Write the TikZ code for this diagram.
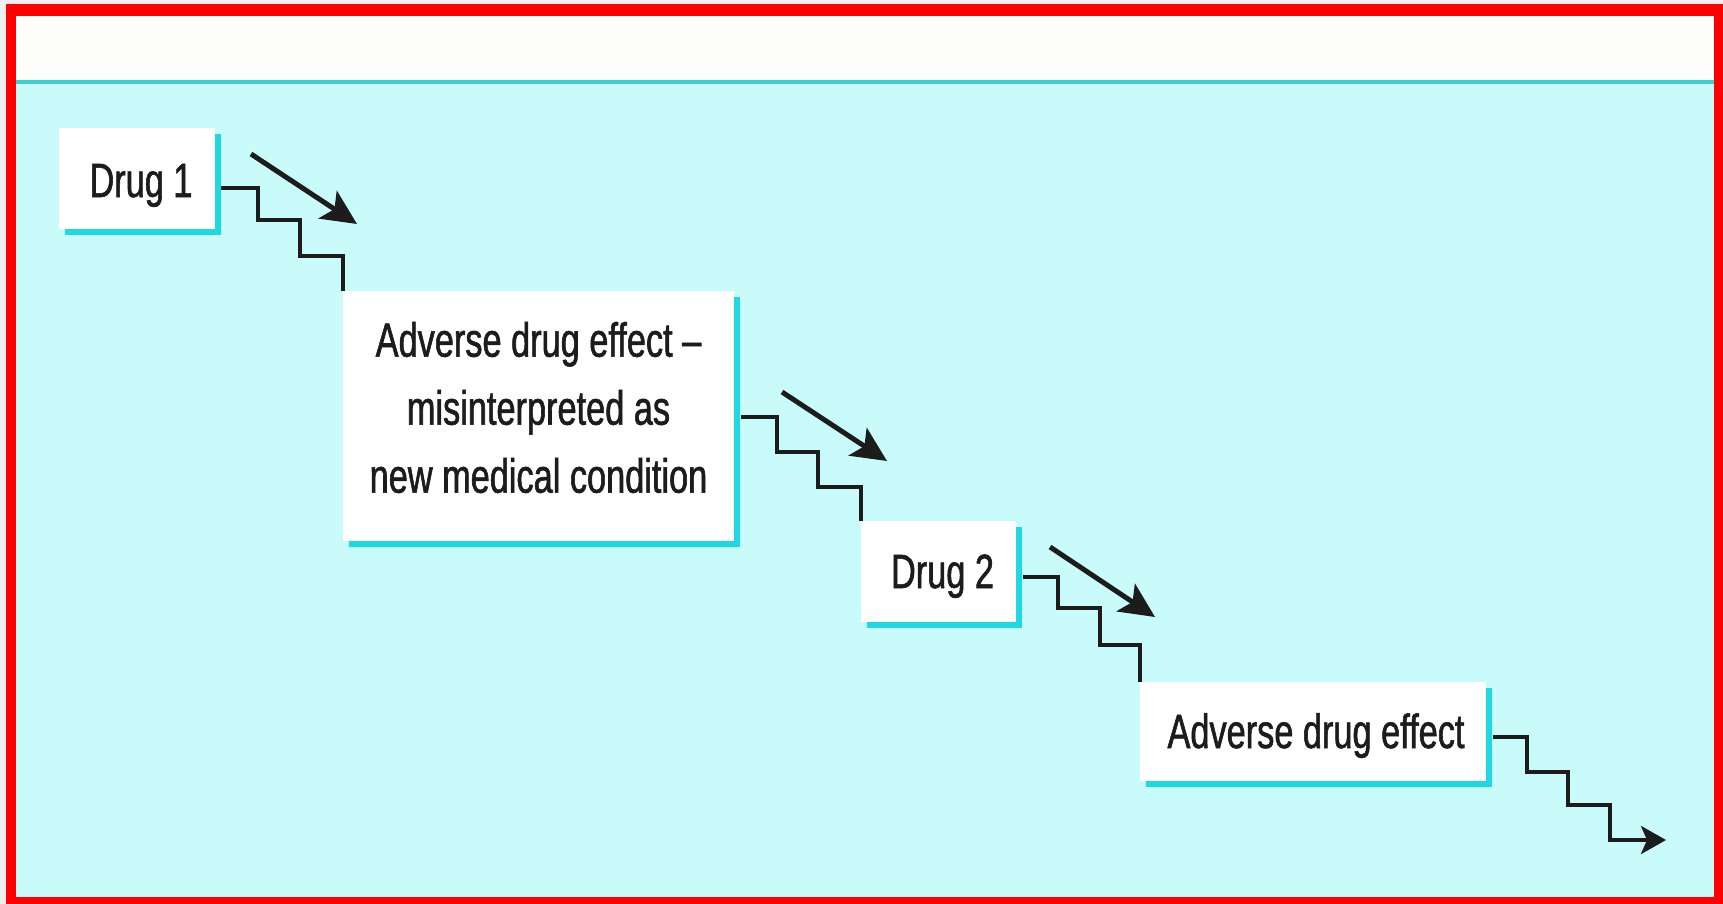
\documentclass[tikz,border=0pt]{standalone}
\usepackage{fontspec}
\newfontfamily\condfont[FakeStretch=0.715,FakeBold=1.2]{Liberation Sans}
\usetikzlibrary{arrows.meta,calc,shadows}
\definecolor{bgcyan}{HTML}{C9FBFB}
\definecolor{barcyan}{HTML}{1FD9E2}
\definecolor{linecyan}{HTML}{3FD0D4}
\definecolor{frame}{HTML}{FF0000}
\definecolor{ink}{HTML}{1C1C1C}
\definecolor{header}{HTML}{FDFDFB}
\definecolor{outside}{HTML}{F0F0F0}
\begin{document}
\begin{tikzpicture}[x=1pt,y=-1pt,
  box/.style={rectangle, fill=white, inner sep=0pt, draw=none,
    drop shadow={shadow xshift=6pt, shadow yshift=-6pt, fill=barcyan, opacity=1}},
  txt/.style={inner sep=0pt, text=ink, font=\condfont\fontsize{48}{68}\selectfont},
  stepline/.style={draw=ink, line width=3.5pt, line join=miter},
  steparrow/.style={stepline, -{Stealth[length=25pt,width=28pt,inset=6pt]}},
  diagarrow/.style={draw=ink, line width=5pt, -{Stealth[length=35pt,width=33pt,inset=8pt]}}]
\useasboundingbox (0,0) rectangle (1723,904);
% frame and background
\fill[outside] (0,0) rectangle (1723,904);
\fill[frame] (6,4) rectangle (1723,904);
\fill[header] (16,16) rectangle (1714,897);
\fill[bgcyan] (16,84) rectangle (1714,897);
\fill[linecyan] (16,80.5) rectangle (1714,84);
% boxes
\node[box, minimum width=156pt, minimum height=101pt] (d1) at (137,178.5) {};
\node[box, minimum width=391pt, minimum height=250pt] (b1) at (538.5,416) {};
\node[box, minimum width=155pt, minimum height=101pt] (d2) at (938.5,571.5) {};
\node[box, minimum width=346pt, minimum height=99pt] (b2) at (1313,731.5) {};
% texts
\node[txt, anchor=base] (t1) at ($(d1.center)+(4,18.5)$) {Drug 1};
\node[txt, align=center] (t2) at ($(b1.center)+(0,-8.5)$) {Adverse drug effect –\\misinterpreted as\\new medical condition};
\node[txt, anchor=base] (t3) at ($(d2.center)+(4,16.5)$) {Drug 2};
\node[txt, anchor=base] (t4) at ($(b2.center)+(3,16.5)$) {Adverse drug effect};
% step connectors
\draw[stepline] ($(d1.east)+(6,9.5)$) -- ++(37,0) -- ++(0,32) -- ++(42,0) -- ++(0,36) -| (b1.north west);
\draw[stepline] ($(b1.east)+(7,1)$) -- ++(36,0) -- ++(0,35) -- ++(41,0) -- ++(0,35) -| (d2.north west);
\draw[stepline] ($(d2.east)+(7,5.5)$) -- ++(35,0) -- ++(0,31) -- ++(42,0) -- ++(0,37) -| (b2.north west);
\coordinate (end) at (1666,840);
\draw[steparrow] ($(b2.east)+(7,5.5)$) -- ++(34,0) -- ++(0,35) -- ++(41,0) -- ++(0,33) -- ++(42,0) |- (end);
% diagonal arrows
\coordinate (a1s) at (251,154);
\coordinate (a1e) at (357,224);
\coordinate (a2s) at (782,392);
\coordinate (a2e) at (887,461);
\coordinate (a3s) at (1050,547);
\coordinate (a3e) at (1155,617);
\draw[diagarrow] (a1s) -- (a1e);
\draw[diagarrow] (a2s) -- (a2e);
\draw[diagarrow] (a3s) -- (a3e);
\end{tikzpicture}
\end{document}
